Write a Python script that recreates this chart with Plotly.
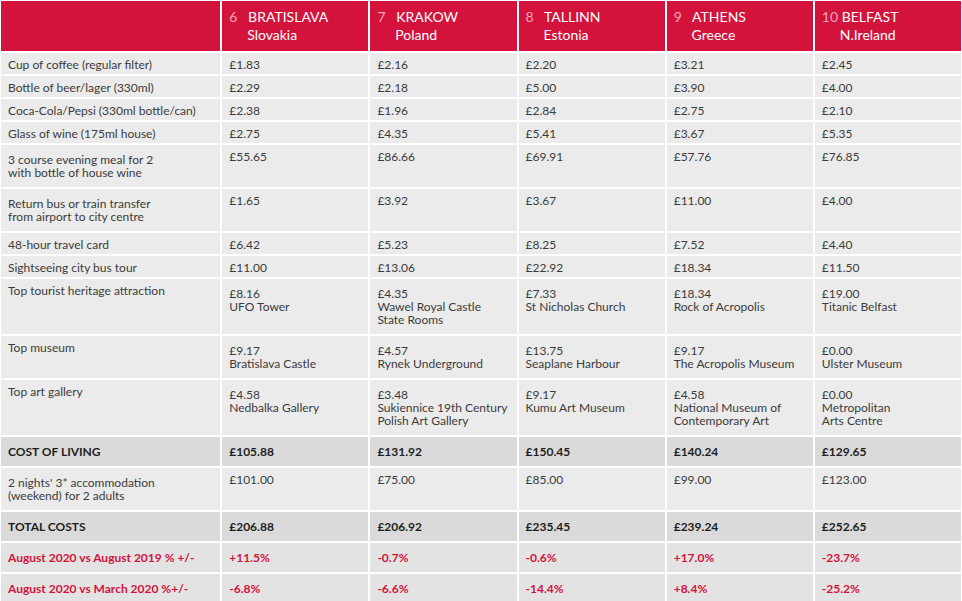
import plotly.graph_objects as go

# ---- data ----
ranks = ["6", "7", "8", "9", "10"]
cities = ["BRATISLAVA", "KRAKOW", "TALLINN", "ATHENS", "BELFAST"]
countries = ["Slovakia", "Poland", "Estonia", "Greece", "N.Ireland"]

categories = [
    ["Cup of coffee (regular filter)"],
    ["Bottle of beer/lager (330ml)"],
    ["Coca-Cola/Pepsi (330ml bottle/can)"],
    ["Glass of wine (175ml house)"],
    ["3 course evening meal for 2", "with bottle of house wine"],
    ["Return bus or train transfer", "from airport to city centre"],
    ["48-hour travel card"],
    ["Sightseeing city bus tour"],
    ["Top tourist heritage attraction"],
    ["Top museum"],
    ["Top art gallery"],
    ["COST OF LIVING"],
    ["2 nights' 3* accommodation", "(weekend) for 2 adults"],
    ["TOTAL COSTS"],
    ["August 2020 vs August 2019 % +/-"],
    ["August 2020 vs March 2020 %+/-"],
]

bratislava = [1.83, 2.29, 2.38, 2.75, 55.65, 1.65, 6.42, 11.00, 8.16, 9.17, 4.58, 105.88, 101.00, 206.88]
krakow = [2.16, 2.18, 1.96, 4.35, 86.66, 3.92, 5.23, 13.06, 4.35, 4.57, 3.48, 131.92, 75.00, 206.92]
tallinn = [2.20, 5.00, 2.84, 5.41, 69.91, 3.67, 8.25, 22.92, 7.33, 13.75, 9.17, 150.45, 85.00, 235.45]
athens = [3.21, 3.90, 2.75, 3.67, 57.76, 11.00, 7.52, 18.34, 18.34, 9.17, 4.58, 140.24, 99.00, 239.24]
belfast = [2.45, 4.00, 2.10, 5.35, 76.85, 4.00, 4.40, 11.50, 19.00, 0.00, 0.00, 129.65, 123.00, 252.65]

change_vs_aug2019 = [11.5, -0.7, -0.6, 17.0, -23.7]
change_vs_mar2020 = [-6.8, -6.6, -14.4, 8.4, -25.2]

attractions = [
    [["UFO Tower"], ["Bratislava Castle"], ["Nedbalka Gallery"]],
    [["Wawel Royal Castle", "State Rooms"], ["Rynek Underground"], ["Sukiennice 19th Century", "Polish Art Gallery"]],
    [["St Nicholas Church"], ["Seaplane Harbour"], ["Kumu Art Museum"]],
    [["Rock of Acropolis"], ["The Acropolis Museum"], ["National Museum of", "Contemporary Art"]],
    [["Titanic Belfast"], ["Ulster Museum"], ["Metropolitan", "Arts Centre"]],
]

# ---- styling ----
RED = "#d3133c"
PINK = "#f6a3b5"
TEXT = "#3b3b3b"
DARK = "#1e1e1e"
FILL = "#ebebeb"
FILL_BOLD = "#dadada"
FILL_PCT = "#e3e3e3"
FS = 12          # text size
FS_BASE = 10     # base size of multi-line cells (sets tighter line spacing)

bold_rows = {11, 13}
pct_rows = {14, 15}
attr_rows = {8: 0, 9: 1, 10: 2}


def cell(lines, bold=False):
    """Return (text, font size) for a cell made of one or more lines."""
    if len(lines) == 1:
        t = lines[0]
        return (f"<b>{t}</b>" if bold else t), FS
    parts = [f"<span style='font-size:{FS}px'>{ln}</span>" for ln in lines]
    return "<br>".join(parts), FS_BASE


def city_column(ci, vals):
    txt, siz = [], []
    for r, v in enumerate(vals):
        lines = [f"£{v:.2f}"]
        if r in attr_rows:
            lines += attractions[ci][attr_rows[r]]
        t, s = cell(lines, bold=r in bold_rows)
        txt.append(t)
        siz.append(s)
    for pct in (change_vs_aug2019[ci], change_vs_mar2020[ci]):
        t, s = cell([f"{pct:+.1f}%"], bold=True)
        txt.append(t)
        siz.append(s)
    return txt, siz


first_txt, first_siz = [], []
for r, c in enumerate(categories):
    t, s = cell(c, bold=(r in bold_rows or r in pct_rows))
    first_txt.append(t)
    first_siz.append(s)

all_vals = [bratislava, krakow, tallinn, athens, belfast]
columns, sizes = [first_txt], [first_siz]
for i, v in enumerate(all_vals):
    t, s = city_column(i, v)
    columns.append(t)
    sizes.append(s)

row_fill, row_color = [], []
for r in range(len(categories)):
    if r in bold_rows:
        row_fill.append(FILL_BOLD)
        row_color.append(DARK)
    elif r in pct_rows:
        row_fill.append(FILL_PCT)
        row_color.append(RED)
    else:
        row_fill.append(FILL)
        row_color.append(TEXT)
fills = [row_fill] * 6
colors = [row_color] * 6

NB = "\u00a0"
headers = [""]
for rk, city, country in zip(ranks, cities, countries):
    if len(rk) == 1:
        headers.append(f"<span style='color:{PINK}'>{rk}</span>{NB * 3}{city}<br>{NB * 5}{country}")
    else:
        headers.append(f"<span style='color:{PINK}'>{rk}</span>{NB}{city}<br>{NB * 5}{country}")

# plotly.js accepts a per-cell (2-D) font size grid; the Python validator only
# knows the 1-D form, so validation is skipped for this trace.
table = go.Table(
    columnwidth=[221, 148, 148, 148, 148, 148],
    header=dict(
        values=headers,
        fill=dict(color=RED),
        line=dict(color="white", width=2),
        font=dict(family="Lato", size=14, color="white"),
        align="left",
        height=52,
    ),
    cells=dict(
        values=columns,
        fill=dict(color=fills),
        line=dict(color="white", width=2),
        font=dict(family="Lato", size=sizes, color=colors),
        align="left",
        height=23,
    ),
    _validate=False,
)

fig = go.Figure(data=[table], _validate=False)

fig.update_layout(
    width=962,
    height=601,
    margin=dict(l=0, r=0, t=0, b=0),
    paper_bgcolor="white",
)

fig.write_html(
    "out.html",
    config={"displayModeBar": False},
    post_script="document.body.style.margin='0';",
)
